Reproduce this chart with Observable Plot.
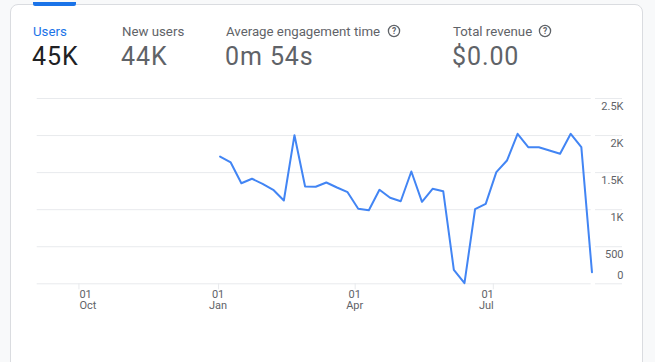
<!DOCTYPE html>
<html>
<head>
<meta charset="utf-8">
<script src="https://cdn.jsdelivr.net/npm/d3@7"></script>
<script src="https://cdn.jsdelivr.net/npm/@observablehq/plot@0.6"></script>
<style>
  html, body { margin: 0; padding: 0; width: 655px; height: 362px; overflow: hidden; background: #f8f9fa; font-family: Roboto, "Noto Sans", sans-serif; }
  #card { position: absolute; left: 10px; top: 3.5px; width: 633px; height: 420px; background: #fff; border: 1px solid #dadce0; border-radius: 8px; box-sizing: border-box; }
  #tab { position: absolute; left: 33px; top: 2px; width: 43px; height: 4px; background: #1a73e8; border-radius: 0 0 2px 2px; }
  .lbl { position: absolute; font-size: 13.25px; line-height: 13.25px; color: #5f6368; white-space: nowrap; }
  .val { position: absolute; font-size: 25px; line-height: 25px; letter-spacing: 0.9px; color: #5f6368; white-space: nowrap; }
  .help { position: absolute; width: 14px; height: 14px; }
  #chart { position: absolute; left: 0; top: 0; }
</style>
</head>
<body>
<div id="card"></div>
<div id="tab"></div>
<div id="header"></div>
<div id="chart"></div>
<script>
// ---- data ----
const metricLabels = ["Users", "New users", "Average engagement time", "Total revenue"];
const metricValues = ["45K", "44K", "0m 54s", "$0.00"];
const metricHelp = [false, false, true, true];

const weeks = [
  "2023-01-02","2023-01-09","2023-01-16","2023-01-23","2023-01-30",
  "2023-02-06","2023-02-13","2023-02-20","2023-02-27",
  "2023-03-06","2023-03-13","2023-03-20","2023-03-27",
  "2023-04-03","2023-04-10","2023-04-17","2023-04-24",
  "2023-05-01","2023-05-08","2023-05-15","2023-05-22","2023-05-29",
  "2023-06-05","2023-06-12","2023-06-19","2023-06-26",
  "2023-07-03","2023-07-10","2023-07-17","2023-07-24","2023-07-31",
  "2023-08-07","2023-08-14","2023-08-21","2023-08-28",
  "2023-09-04"
];
const users = [
  1717, 1637, 1357, 1417, 1349,
  1268, 1124, 2005, 1313,
  1309, 1367, 1299, 1236,
  1012, 993, 1268, 1160,
  1114, 1515, 1106, 1282, 1249,
  189, 8, 1007, 1079,
  1506, 1663, 2024, 1843, 1843,
  1798, 1754, 2024, 1843,
  157
];

const xTickDates = ["2022-10-01", "2023-01-01", "2023-04-01", "2023-07-01"];
const xTickDays = ["01", "01", "01", "01"];
const xTickMonths = ["Oct", "Jan", "Apr", "Jul"];
const xTickAnchors = ["start", "middle", "middle", "end"];
const xDomain = ["2022-09-03T12:00:00Z", "2023-09-03T12:00:00Z"];

const yTicks = [0, 500, 1000, 1500, 2000, 2500];
const yTickLabels = ["0", "500", "1K", "1.5K", "2K", "2.5K"];

// ---- header ----
const lefts = [33, 122, 226, 453];
const helpLefts = [null, null, 387, 538];
const header = document.getElementById("header");
metricLabels.forEach((t, i) => {
  const l = document.createElement("div");
  l.className = "lbl";
  l.style.left = lefts[i] + "px";
  l.style.top = "24.5px";
  if (i === 0) l.style.color = "#1a73e8";
  l.textContent = t;
  header.appendChild(l);
  const v = document.createElement("div");
  v.className = "val";
  v.style.left = (lefts[i] - 1) + "px";
  v.style.top = "43.5px";
  if (i === 0) v.style.color = "#202124";
  v.textContent = metricValues[i];
  header.appendChild(v);
  if (metricHelp[i]) {
    const ns = "http://www.w3.org/2000/svg";
    const s = document.createElementNS(ns, "svg");
    s.setAttribute("class", "help");
    s.setAttribute("viewBox", "0 0 14 14");
    s.style.left = helpLefts[i] + "px";
    s.style.top = "23.5px";
    const c = document.createElementNS(ns, "circle");
    c.setAttribute("cx", 7); c.setAttribute("cy", 7); c.setAttribute("r", 5.6);
    c.setAttribute("fill", "none"); c.setAttribute("stroke", "#5f6368"); c.setAttribute("stroke-width", 1.3);
    s.appendChild(c);
    const q = document.createElementNS(ns, "text");
    q.setAttribute("x", 7); q.setAttribute("y", 10.2);
    q.setAttribute("text-anchor", "middle");
    q.setAttribute("font-size", 8.5); q.setAttribute("font-weight", "bold");
    q.setAttribute("font-family", "Roboto, sans-serif");
    q.setAttribute("fill", "#5f6368");
    q.textContent = "?";
    s.appendChild(q);
    header.appendChild(s);
  }
});

// ---- chart ----
const data = weeks.map((w, i) => ({date: new Date(w + "T00:00:00Z"), users: users[i]}));
const ticks = xTickDates.map((d, i) => ({date: new Date(d + "T00:00:00Z"), label: xTickDays[i] + "\n" + xTickMonths[i], anchor: xTickAnchors[i]}));
const gridColor = "#e8eaed";
const textColor = "#5f6368";

const xLabel = (anchor) => Plot.text(ticks, {
  filter: d => d.anchor === anchor,
  x: "date", frameAnchor: "bottom", text: "label",
  textAnchor: anchor, lineAnchor: "top", dy: 5.5, dx: anchor === "start" ? 0.5 : anchor === "end" ? 0.5 : -0.5,
  fontSize: 11, lineHeight: 1.05, fill: textColor
});

const chart = Plot.plot({
  width: 655,
  height: 330,
  marginTop: 98,
  marginBottom: 46.7,
  marginLeft: 36.7,
  marginRight: 64.3,
  style: {background: "transparent", fontFamily: "Roboto, sans-serif", overflow: "visible"},
  x: {type: "utc", domain: xDomain.map(d => new Date(d)), axis: null},
  y: {domain: [0, 2500], axis: null},
  marks: [
    Plot.ruleY(yTicks, {y: d => d, stroke: gridColor, strokeWidth: 1}),
    Plot.ruleY(yTicks, {y: d => d, stroke: gridColor, strokeWidth: 1, insetLeft: 558.3, insetRight: -31.3}),
    Plot.axisX(ticks.map(d => d.date), {tickSize: 6, tickFormat: () => "", stroke: gridColor}),
    xLabel("start"),
    xLabel("middle"),
    xLabel("end"),
    Plot.text(yTicks, {
      filter: d => d > 0, y: d => d, frameAnchor: "right",
      text: (d) => yTickLabels[yTicks.indexOf(d)],
      textAnchor: "end", lineAnchor: "middle", dx: 32.3, dy: 8,
      fontSize: 11, fill: textColor
    }),
    Plot.text(yTicks, {
      filter: d => d === 0, y: d => d, frameAnchor: "right",
      text: (d) => yTickLabels[yTicks.indexOf(d)],
      textAnchor: "end", lineAnchor: "middle", dx: 32.3, dy: -8.3,
      fontSize: 11, fill: textColor
    }),
    Plot.lineY(data, {x: "date", y: "users", stroke: "#4285f4", strokeWidth: 2, strokeLinejoin: "round", strokeLinecap: "round"})
  ]
});
document.getElementById("chart").appendChild(chart);
</script>
</body>
</html>
